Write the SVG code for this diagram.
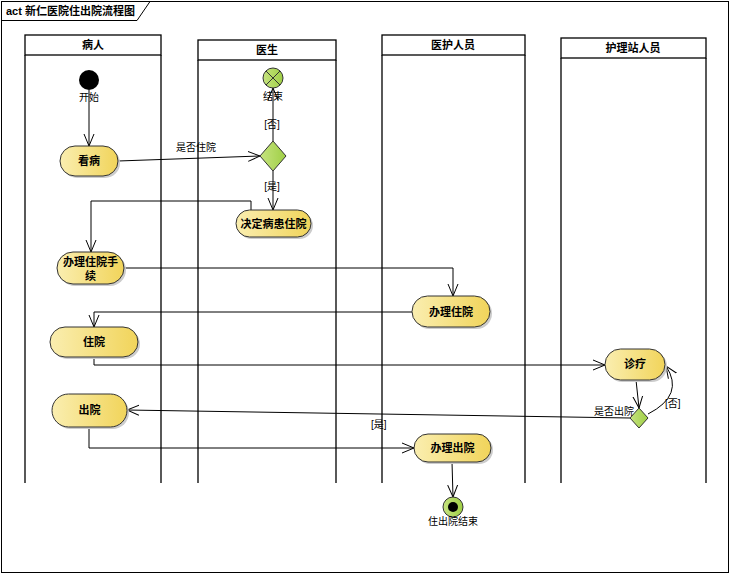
<svg xmlns="http://www.w3.org/2000/svg" width="731" height="575" viewBox="0 0 731 575">
<defs>
<linearGradient id="pg" x1="0" y1="0" x2="1" y2="0">
<stop offset="0" stop-color="#faeeb0"/>
<stop offset="1" stop-color="#f1d45a"/>
</linearGradient>
<linearGradient id="gg" x1="0" y1="0" x2="1" y2="0">
<stop offset="0" stop-color="#c6e37f"/>
<stop offset="1" stop-color="#9fcf45"/>
</linearGradient>
<marker id="arr" viewBox="0 0 12 12" refX="12" refY="6" markerWidth="12" markerHeight="12" markerUnits="userSpaceOnUse" orient="auto">
<path d="M0,1 L12,6 L0,11" fill="none" stroke="#000" stroke-width="1"/>
</marker>
</defs>
<style>
text{font-family:"Liberation Sans","Noto Sans CJK SC",sans-serif;font-size:11px;fill:#000}
.b{font-weight:bold}
.l{font-size:10px}
.lane{fill:none;stroke:#000;stroke-width:1.3}
.hdr{fill:#fff;stroke:#000;stroke-width:1.3}
.pill{fill:url(#pg);stroke:#333;stroke-width:1}
.sh{fill:#ccc}
.c{fill:none;stroke:#000;stroke-width:1}
</style>
<rect x="0" y="0" width="731" height="575" fill="#fff"/>
<g id="frame">
<rect x="1.5" y="1.5" width="727" height="571" fill="none" stroke="#000" stroke-width="1"/>
<path d="M1.5,20.5 H137 L150,1.5" fill="none" stroke="#000" stroke-width="1"/>
<text x="6" y="15" class="b">act 新仁医院住出院流程图</text>
</g>
<g id="lanes">
<g id="lane1">
<path class="lane" d="M25,55 V483 M161,55 V483"/>
<rect class="hdr" x="25" y="35" width="136" height="20"/>
<text x="93" y="49" class="b" text-anchor="middle">病人</text>
</g>
<g id="lane2">
<path class="lane" d="M198,60 V483 M336,60 V483"/>
<rect class="hdr" x="198" y="40" width="138" height="20"/>
<text x="267" y="54" class="b" text-anchor="middle">医生</text>
</g>
<g id="lane3">
<path class="lane" d="M382,55 V483 M525,55 V483"/>
<rect class="hdr" x="382" y="35" width="143" height="20"/>
<text x="453" y="49" class="b" text-anchor="middle">医护人员</text>
</g>
<g id="lane4">
<path class="lane" d="M561,58 V483 M706,58 V483"/>
<rect class="hdr" x="561" y="38" width="145" height="20"/>
<text x="633" y="52" class="b" text-anchor="middle">护理站人员</text>
</g>
</g>
<g id="connectors">
<path class="c" d="M89,90 V146" marker-end="url(#arr)"/>
<path class="c" d="M118,161 L260,156" marker-end="url(#arr)"/>
<text x="176" y="151" class="l">是否住院</text>
<path class="c" d="M273,141 V88" marker-end="url(#arr)"/>
<text x="272" y="128" class="l" text-anchor="middle">[否]</text>
<path class="c" d="M273,171 V210" marker-end="url(#arr)"/>
<text x="272" y="190" class="l" text-anchor="middle">[是]</text>
<path class="c" d="M251,210 V201 H91 V252" marker-end="url(#arr)"/>
<path class="c" d="M124,268 H453 V296" marker-end="url(#arr)"/>
<path class="c" d="M412,312 H94 V327" marker-end="url(#arr)"/>
<path class="c" d="M94,357 V365 H605" marker-end="url(#arr)"/>
<path class="c" d="M636,380 L639,408" marker-end="url(#arr)"/>
<path class="c" d="M648,414 Q685,395 666,366" marker-end="url(#arr)"/>
<text x="665" y="407" class="l">[否]</text>
<path class="c" d="M630,418 L127,410" marker-end="url(#arr)" stroke="#444"/>
<text x="594" y="415" class="l">是否出院</text>
<text x="371" y="428" class="l">[是]</text>
<path class="c" d="M89,427 V448 H414" marker-end="url(#arr)"/>
<path class="c" d="M452,462 L453,497" marker-end="url(#arr)"/>
</g>
<g id="start">
<circle cx="89" cy="80" r="10" fill="#000"/>
<text x="89" y="101" class="l" text-anchor="middle">开始</text>
</g>
<g id="kanbing">
<rect class="sh" x="62" y="148" width="58" height="30" rx="15"/>
<rect class="pill" x="60" y="146" width="58" height="30" rx="15"/>
<text x="89" y="165" class="b" text-anchor="middle">看病</text>
</g>
<g id="decision1">
<path d="M273,141 L286,156 L273,171 L260,156 Z" fill="url(#gg)" stroke="#333" stroke-width="1"/>
</g>
<g id="end1">
<circle cx="273" cy="78" r="10" fill="url(#gg)" stroke="#333" stroke-width="1"/>
<path d="M266,71 L280,85 M280,71 L266,85" stroke="#333" stroke-width="1"/>
<text x="273" y="100" class="l" text-anchor="middle">结束</text>
</g>
<g id="juedingzhuyuan">
<rect class="sh" x="238" y="212" width="75" height="27" rx="13.5"/>
<rect class="pill" x="236" y="210" width="75" height="27" rx="13.5"/>
<text x="273.5" y="228" class="b" text-anchor="middle">决定病患住院</text>
</g>
<g id="banlizhuyuanshouxu">
<rect class="sh" x="59" y="254" width="67" height="32" rx="16"/>
<rect class="pill" x="57" y="252" width="67" height="32" rx="16"/>
<text x="90.5" y="266" class="b" text-anchor="middle">办理住院手</text>
<text x="90.5" y="280" class="b" text-anchor="middle">续</text>
</g>
<g id="banlizhuyuan">
<rect class="sh" x="414" y="298" width="78" height="31" rx="15.5"/>
<rect class="pill" x="412" y="296" width="78" height="31" rx="15.5"/>
<text x="451" y="316" class="b" text-anchor="middle">办理住院</text>
</g>
<g id="zhuyuan">
<rect class="sh" x="52" y="329" width="88" height="30" rx="15"/>
<rect class="pill" x="50" y="327" width="88" height="30" rx="15"/>
<text x="94" y="346" class="b" text-anchor="middle">住院</text>
</g>
<g id="zhenliao">
<rect class="sh" x="607" y="351" width="60" height="31" rx="15.5"/>
<rect class="pill" x="605" y="349" width="60" height="31" rx="15.5"/>
<text x="635" y="368" class="b" text-anchor="middle">诊疗</text>
</g>
<g id="decision2">
<path d="M639,408 L648,418 L639,428 L630,418 Z" fill="url(#gg)" stroke="#333" stroke-width="1"/>
</g>
<g id="chuyuan">
<rect class="sh" x="54" y="396" width="75" height="33" rx="16.5"/>
<rect class="pill" x="52" y="394" width="75" height="33" rx="16.5"/>
<text x="89.5" y="414" class="b" text-anchor="middle">出院</text>
</g>
<g id="banlichuyuan">
<rect class="sh" x="416" y="436" width="77" height="28" rx="14"/>
<rect class="pill" x="414" y="434" width="77" height="28" rx="14"/>
<text x="452.5" y="452" class="b" text-anchor="middle">办理出院</text>
</g>
<g id="final">
<circle cx="453" cy="507" r="10" fill="url(#gg)" stroke="#333" stroke-width="1"/>
<circle cx="453" cy="507" r="5" fill="#000"/>
<text x="453" y="525" class="l" text-anchor="middle">住出院结束</text>
</g>
</svg>
